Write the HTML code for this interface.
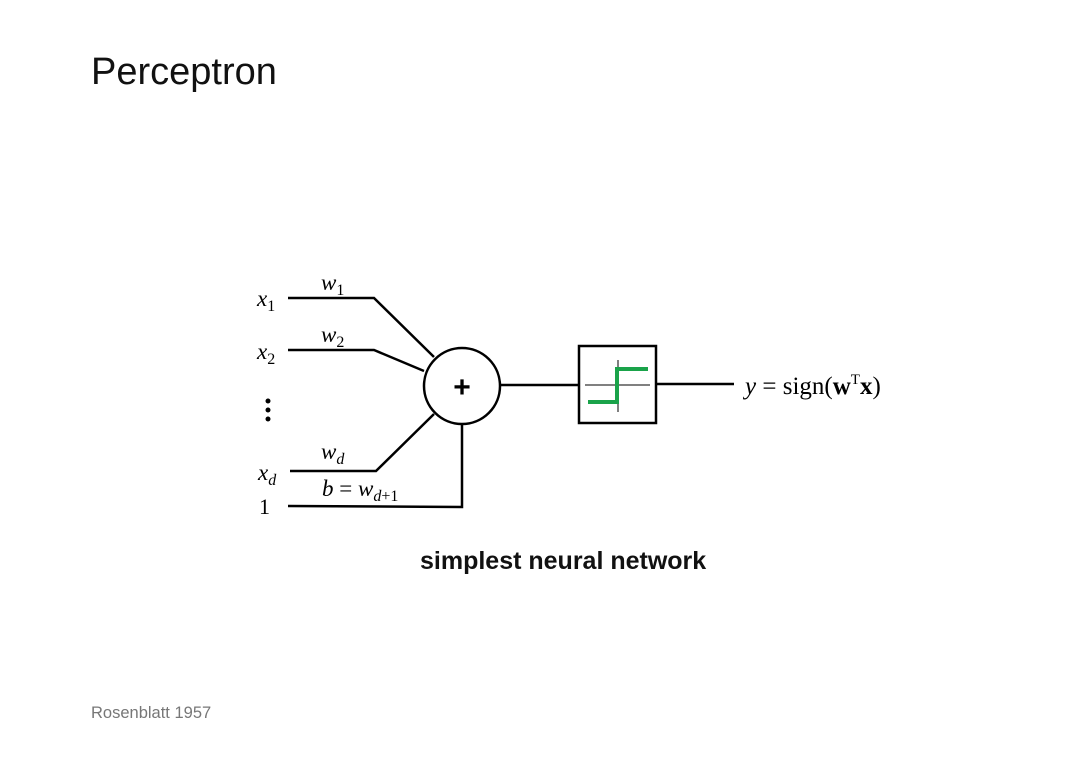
<!DOCTYPE html>
<html><head><meta charset="utf-8"><style>
body{margin:0;width:1080px;height:764px;background:#fff;overflow:hidden;position:relative;font-family:"Liberation Sans",sans-serif}
.t{position:absolute;white-space:nowrap}
</style></head><body>
<div class="t" style="left:91px;top:51px;font-size:38px;color:#111">Perceptron</div>
<div class="t" style="left:420px;top:547px;font-size:25px;font-weight:bold;color:#111">simplest neural network</div>
<div class="t" style="left:91px;top:704px;font-size:16.5px;color:#777">Rosenblatt 1957</div>
<svg width="1080" height="764" style="position:absolute;left:0;top:0" font-family="Liberation Serif, serif">
<g stroke="#000" stroke-width="2.5" fill="none">
<polyline points="288,298 374,298 434,357"/>
<polyline points="288,350 374,350 424,371"/>
<polyline points="290,471 376,471 434,414"/>
<polyline points="288,506 462,507 462,424"/>
<circle cx="462" cy="386" r="38"/>
<line x1="500" y1="385" x2="579" y2="385"/>
<rect x="579" y="346" width="77" height="77"/>
<line x1="656" y1="384" x2="734" y2="384"/>
</g>
<g stroke="#000" stroke-width="1">
<line x1="585" y1="385" x2="650" y2="385"/>
<line x1="618" y1="360" x2="618" y2="412"/>
</g>
<polyline points="588,402 617,402 617,369 648,369" stroke="#1aa34a" stroke-width="4" fill="none"/>
<text x="462" y="397" font-size="30" font-family="Liberation Sans,sans-serif" font-weight="bold" text-anchor="middle">+</text>
<g font-size="23" font-style="italic">
<text x="257" y="306">x<tspan font-size="16" font-style="normal" dy="5">1</tspan></text>
<text x="257" y="359">x<tspan font-size="16" font-style="normal" dy="5">2</tspan></text>
<text x="258" y="480">x<tspan font-size="16" dy="5">d</tspan></text>
<text x="321" y="290">w<tspan font-size="16" font-style="normal" dy="5">1</tspan></text>
<text x="321" y="342">w<tspan font-size="16" font-style="normal" dy="5">2</tspan></text>
<text x="321" y="459">w<tspan font-size="16" dy="5">d</tspan></text>
<text x="322" y="496">b <tspan font-style="normal">=</tspan> w<tspan font-size="16" dy="5">d</tspan><tspan font-size="16" font-style="normal">+1</tspan></text>
</g>
<text x="259" y="514" font-size="22">1</text>
<g fill="#000"><circle cx="268" cy="401" r="2.5"/><circle cx="268" cy="410" r="2.5"/><circle cx="268" cy="419" r="2.5"/></g>
<text x="745" y="394" font-size="25"><tspan font-style="italic">y</tspan> = sign(<tspan font-weight="bold">w</tspan><tspan font-size="15" dy="-10">T</tspan><tspan font-weight="bold" dy="10">x</tspan>)</text>
</svg>
</body></html>
